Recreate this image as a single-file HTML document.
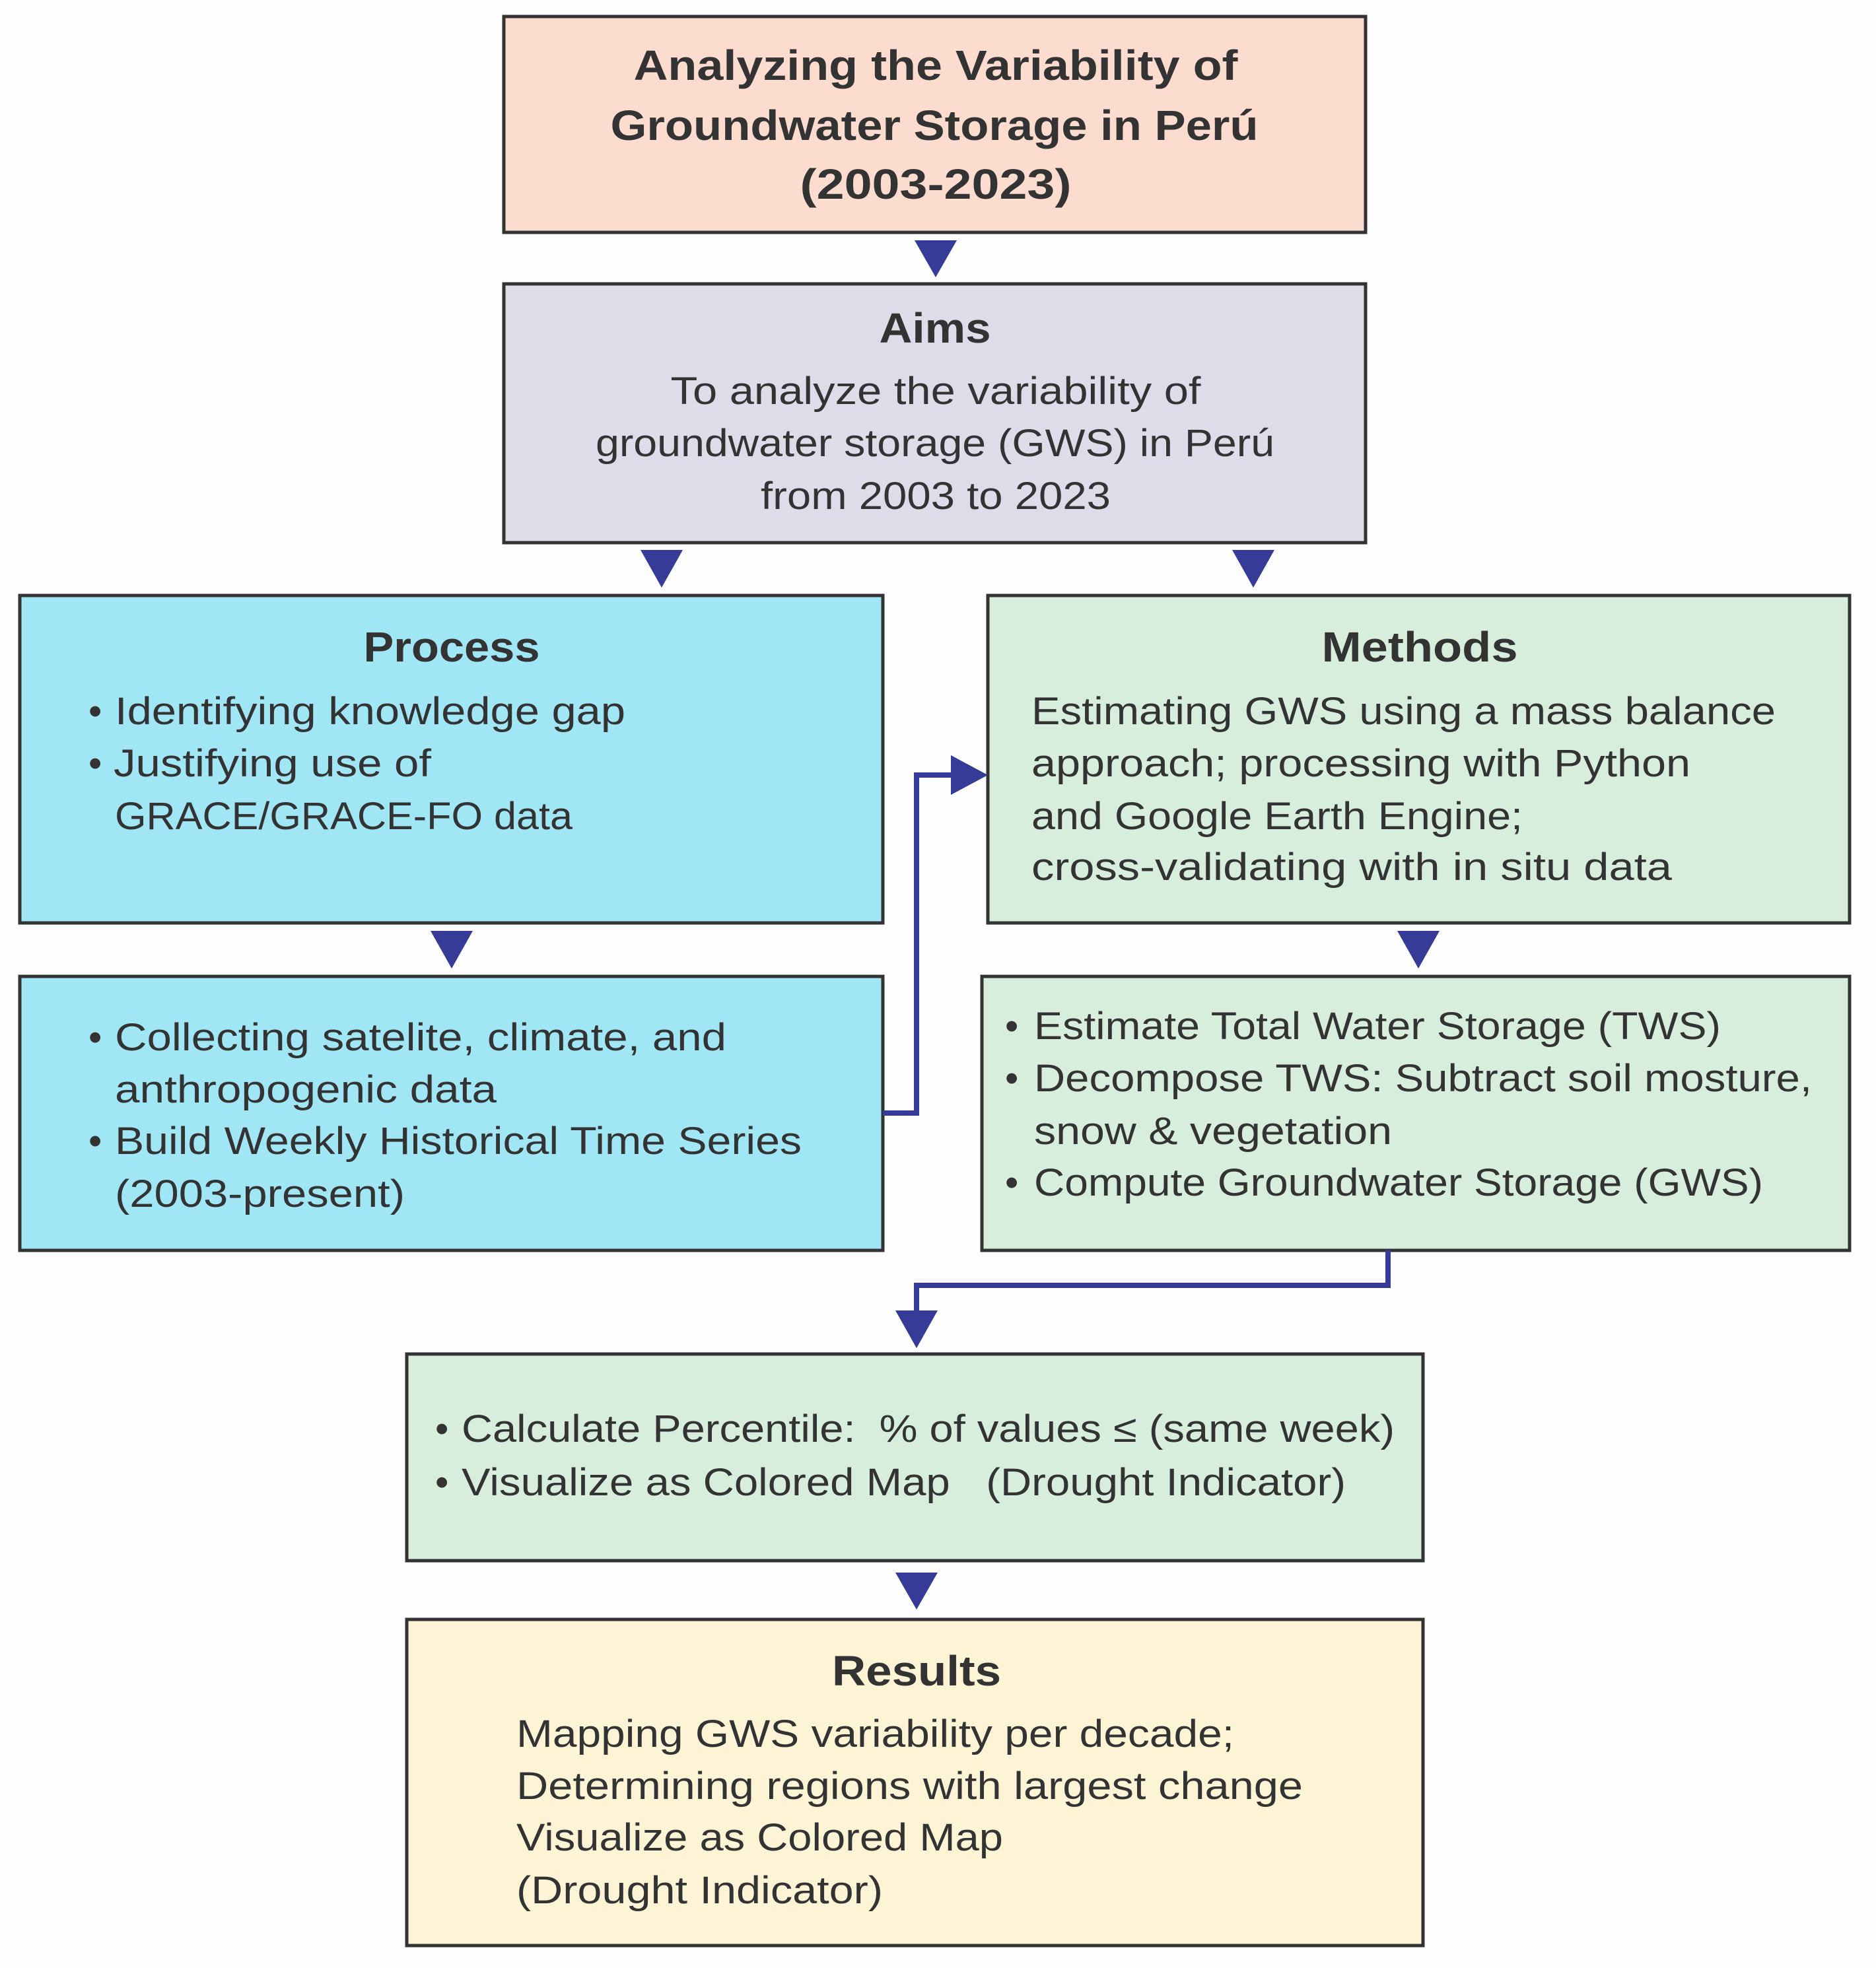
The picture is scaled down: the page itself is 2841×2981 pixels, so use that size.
<!DOCTYPE html>
<html><head><meta charset="utf-8"><style>html,body{margin:0;padding:0;background:#fdfdfd}svg{display:block}</style></head><body>
<svg width="2841" height="2981" viewBox="0 0 2841 2981" xmlns="http://www.w3.org/2000/svg" font-family="Liberation Sans, sans-serif" fill="#333">
<rect width="2841" height="2981" fill="#fdfdfd"/>
<g stroke="#333" stroke-width="5">
<rect x="763" y="25" width="1305" height="327" fill="#fddcd0"/>
<rect x="763" y="430" width="1305" height="392" fill="#dfdbe9"/>
<rect x="30" y="902" width="1307" height="496" fill="#a0e6f5"/>
<rect x="1496" y="902" width="1305" height="496" fill="#d8eedd"/>
<rect x="30" y="1479" width="1307" height="415" fill="#a0e6f5"/>
<rect x="1487" y="1479" width="1314" height="415" fill="#d8eedd"/>
<rect x="616" y="2051" width="1539" height="313" fill="#d8eedd"/>
<rect x="616" y="2453" width="1539" height="494" fill="#fdf4d6"/>
</g>
<g fill="#353b96">
<polygon points="1385,364 1449,364 1417,420"/>
<polygon points="970,833 1034,833 1002,890"/>
<polygon points="1866,833 1930,833 1898,890"/>
<polygon points="652,1410 716,1410 684,1467"/>
<polygon points="2116,1410 2180,1410 2148,1467"/>
<polygon points="1356,2382 1420,2382 1388,2438"/>
<polygon points="1440,1144 1496,1174 1440,1204"/>
<polygon points="1356,1985 1420,1985 1388,2042"/>
</g>
<g fill="none" stroke="#353b96" stroke-width="8">
<polyline points="1337,1686 1388,1686 1388,1174 1445,1174"/>
<polyline points="2102,1894 2102,1947 1388,1947 1388,1990"/>
</g>
<g font-weight="bold" font-size="64" text-anchor="middle">
<text x="1417" y="121" textLength="915" lengthAdjust="spacingAndGlyphs">Analyzing the Variability of</text>
<text x="1415" y="212" textLength="981" lengthAdjust="spacingAndGlyphs">Groundwater Storage in Perú</text>
<text x="1417" y="301" textLength="411" lengthAdjust="spacingAndGlyphs">(2003-2023)</text>
<text x="1416" y="519" textLength="169" lengthAdjust="spacingAndGlyphs">Aims</text>
<text x="684" y="1002" textLength="267" lengthAdjust="spacingAndGlyphs">Process</text>
<text x="2150" y="1002" textLength="297" lengthAdjust="spacingAndGlyphs">Methods</text>
<text x="1388" y="2553" textLength="256" lengthAdjust="spacingAndGlyphs">Results</text>
</g>
<g font-size="58" text-anchor="middle">
<text x="1417" y="612" textLength="803" lengthAdjust="spacingAndGlyphs">To analyze the variability of</text>
<text x="1416" y="691" textLength="1028" lengthAdjust="spacingAndGlyphs">groundwater storage (GWS) in Perú</text>
<text x="1417" y="771" textLength="530" lengthAdjust="spacingAndGlyphs">from 2003 to 2023</text>
</g>
<g font-size="58">
<text x="134" y="1097">•</text><text x="174" y="1097" textLength="773" lengthAdjust="spacingAndGlyphs">Identifying knowledge gap</text>
<text x="134" y="1176">•</text><text x="172" y="1176" textLength="481" lengthAdjust="spacingAndGlyphs">Justifying use of</text>
<text x="174" y="1256" textLength="693" lengthAdjust="spacingAndGlyphs">GRACE/GRACE-FO data</text>

<text x="1562" y="1097" textLength="1127" lengthAdjust="spacingAndGlyphs">Estimating GWS using a mass balance</text>
<text x="1562" y="1176" textLength="998" lengthAdjust="spacingAndGlyphs">approach; processing with Python</text>
<text x="1562" y="1256" textLength="744" lengthAdjust="spacingAndGlyphs">and Google Earth Engine;</text>
<text x="1562" y="1333" textLength="970" lengthAdjust="spacingAndGlyphs">cross-validating with in situ data</text>

<text x="134" y="1591">•</text><text x="174" y="1591" textLength="926" lengthAdjust="spacingAndGlyphs">Collecting satelite, climate, and</text>
<text x="174" y="1670" textLength="578" lengthAdjust="spacingAndGlyphs">anthropogenic data</text>
<text x="134" y="1748">•</text><text x="174" y="1748" textLength="1040" lengthAdjust="spacingAndGlyphs">Build Weekly Historical Time Series</text>
<text x="174" y="1828" textLength="439" lengthAdjust="spacingAndGlyphs">(2003-present)</text>

<text x="1522" y="1574">•</text><text x="1566" y="1574" textLength="1040" lengthAdjust="spacingAndGlyphs">Estimate Total Water Storage (TWS)</text>
<text x="1522" y="1653">•</text><text x="1566" y="1653" textLength="1178" lengthAdjust="spacingAndGlyphs">Decompose TWS: Subtract soil mosture,</text>
<text x="1566" y="1733" textLength="542" lengthAdjust="spacingAndGlyphs">snow &amp; vegetation</text>
<text x="1522" y="1811">•</text><text x="1566" y="1811" textLength="1104" lengthAdjust="spacingAndGlyphs">Compute Groundwater Storage (GWS)</text>

<text x="659" y="2184">•</text><text x="699" y="2184" textLength="1413" lengthAdjust="spacingAndGlyphs" xml:space="preserve">Calculate Percentile:  % of values ≤ (same week)</text>
<text x="659" y="2265">•</text><text x="699" y="2265" textLength="1339" lengthAdjust="spacingAndGlyphs" xml:space="preserve">Visualize as Colored Map   (Drought Indicator)</text>

<text x="782" y="2646" textLength="1087" lengthAdjust="spacingAndGlyphs">Mapping GWS variability per decade;</text>
<text x="782" y="2725" textLength="1191" lengthAdjust="spacingAndGlyphs">Determining regions with largest change</text>
<text x="782" y="2803" textLength="737" lengthAdjust="spacingAndGlyphs">Visualize as Colored Map</text>
<text x="782" y="2883" textLength="555" lengthAdjust="spacingAndGlyphs">(Drought Indicator)</text>
</g>
</svg>
</body></html>
